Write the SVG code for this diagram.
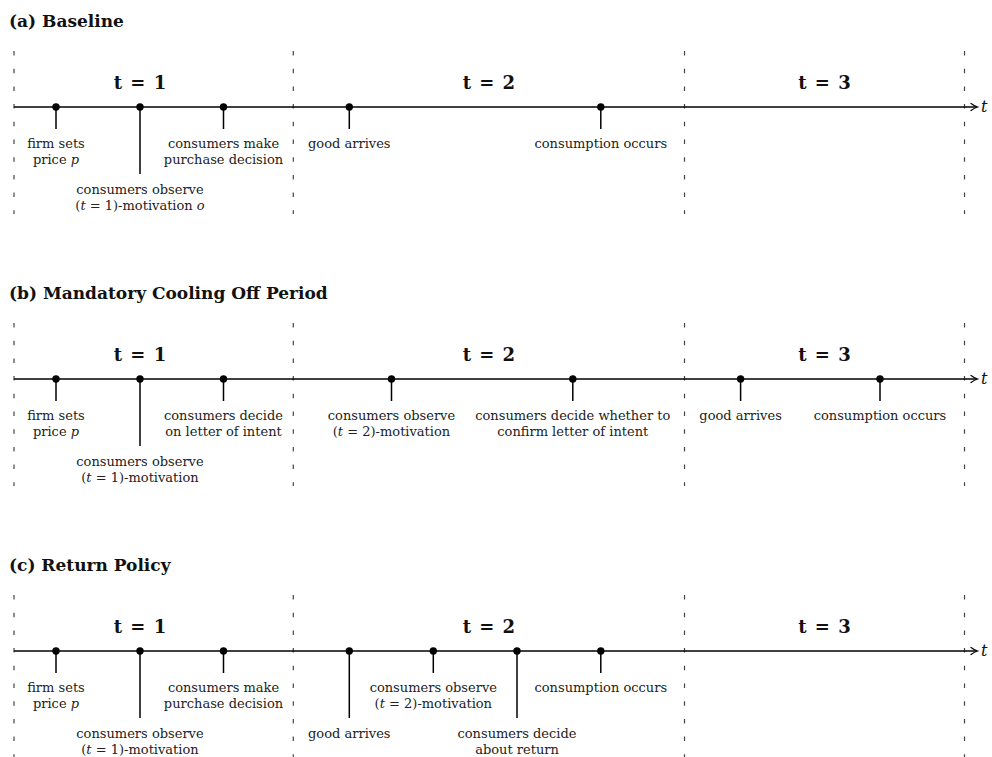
<svg xmlns="http://www.w3.org/2000/svg" width="992" height="757" viewBox="0 0 992 757">
<style>
  .title{font-family:"DejaVu Serif",serif;font-weight:bold;font-size:17px;fill:#111}
  .per{font-family:"DejaVu Serif",serif;font-weight:bold;font-size:18px;fill:#111;text-anchor:middle;word-spacing:2px}
  .lab{font-family:"DejaVu Serif",serif;font-size:13px;fill:#222;text-anchor:middle}
  .it{font-style:italic}
  .tax{font-family:"DejaVu Serif",serif;font-style:italic;font-size:16px;fill:#111}
  .dash{stroke:#444;stroke-width:1.2;stroke-dasharray:4.5 13.2;fill:none}
  .axis{stroke:#000;stroke-width:1.5;fill:none}
  .arr{stroke:#000;stroke-width:1.2;fill:none;stroke-linecap:round}
  .stem{stroke:#000;stroke-width:1.5}
  .dot{fill:#000}
</style>
<defs>
  <g id="frame">
    <line class="dash" x1="14" y1="-56" x2="14" y2="107"/>
    <line class="dash" x1="293.3" y1="-56" x2="293.3" y2="107"/>
    <line class="dash" x1="684.5" y1="-56" x2="684.5" y2="107"/>
    <line class="dash" x1="964.5" y1="-56" x2="964.5" y2="107"/>
  </g>
  <g id="axisline">
    <line class="axis" x1="14" y1="0" x2="977" y2="0"/>
    <path class="arr" d="M971,-3.6 Q974.5,-1 977.6,0 Q974.5,1 971,3.6"/>
  </g>
</defs>

<!-- Panel (a) -->
<g id="panel-a" transform="translate(0,107)">
  <text class="title" x="9" y="-80">(a) Baseline</text>
  <use href="#frame"/>
  <text class="per" x="140" y="-18.5">t = 1</text>
  <text class="per" x="488.9" y="-18.5">t = 2</text>
  <text class="per" x="824.5" y="-18.5">t = 3</text>
  <g id="a-connectors"><use href="#axisline"/></g>
  <text class="tax" x="981" y="4.5">t</text>
  <g id="a-e1"><line class="stem" x1="56" y1="0" x2="56" y2="22"/><circle class="dot" cx="56" cy="0" r="3.7"/>
    <text class="lab" x="56" y="41">firm sets</text><text class="lab" x="56" y="56.5">price <tspan class="it">p</tspan></text></g>
  <g id="a-e2"><line class="stem" x1="140" y1="0" x2="140" y2="67"/><circle class="dot" cx="140" cy="0" r="3.7"/>
    <text class="lab" x="140" y="87">consumers observe</text><text class="lab" x="140" y="102.5">(<tspan class="it">t</tspan> = 1)-motivation <tspan class="it">o</tspan></text></g>
  <g id="a-e3"><line class="stem" x1="223.5" y1="0" x2="223.5" y2="22"/><circle class="dot" cx="223.5" cy="0" r="3.7"/>
    <text class="lab" x="223.5" y="41">consumers make</text><text class="lab" x="223.5" y="56.5">purchase decision</text></g>
  <g id="a-e4"><line class="stem" x1="349.3" y1="0" x2="349.3" y2="22"/><circle class="dot" cx="349.3" cy="0" r="3.7"/>
    <text class="lab" x="349.3" y="41">good arrives</text></g>
  <g id="a-e5"><line class="stem" x1="600.8" y1="0" x2="600.8" y2="22"/><circle class="dot" cx="600.8" cy="0" r="3.7"/>
    <text class="lab" x="600.8" y="41">consumption occurs</text></g>
</g>

<!-- Panel (b) -->
<g id="panel-b" transform="translate(0,379)">
  <text class="title" x="9" y="-80">(b) Mandatory Cooling Off Period</text>
  <use href="#frame"/>
  <text class="per" x="140" y="-18.5">t = 1</text>
  <text class="per" x="488.9" y="-18.5">t = 2</text>
  <text class="per" x="824.5" y="-18.5">t = 3</text>
  <g id="b-connectors"><use href="#axisline"/></g>
  <text class="tax" x="981" y="4.5">t</text>
  <g id="b-e1"><line class="stem" x1="56" y1="0" x2="56" y2="22"/><circle class="dot" cx="56" cy="0" r="3.7"/>
    <text class="lab" x="56" y="41">firm sets</text><text class="lab" x="56" y="56.5">price <tspan class="it">p</tspan></text></g>
  <g id="b-e2"><line class="stem" x1="140" y1="0" x2="140" y2="67"/><circle class="dot" cx="140" cy="0" r="3.7"/>
    <text class="lab" x="140" y="87">consumers observe</text><text class="lab" x="140" y="102.5">(<tspan class="it">t</tspan> = 1)-motivation</text></g>
  <g id="b-e3"><line class="stem" x1="223.5" y1="0" x2="223.5" y2="22"/><circle class="dot" cx="223.5" cy="0" r="3.7"/>
    <text class="lab" x="223.5" y="41">consumers decide</text><text class="lab" x="223.5" y="56.5">on letter of intent</text></g>
  <g id="b-e4"><line class="stem" x1="391.5" y1="0" x2="391.5" y2="22"/><circle class="dot" cx="391.5" cy="0" r="3.7"/>
    <text class="lab" x="391.5" y="41">consumers observe</text><text class="lab" x="391.5" y="56.5">(<tspan class="it">t</tspan> = 2)-motivation</text></g>
  <g id="b-e5"><line class="stem" x1="572.8" y1="0" x2="572.8" y2="22"/><circle class="dot" cx="572.8" cy="0" r="3.7"/>
    <text class="lab" x="572.8" y="41">consumers decide whether to</text><text class="lab" x="572.8" y="56.5">confirm letter of intent</text></g>
  <g id="b-e6"><line class="stem" x1="740.6" y1="0" x2="740.6" y2="22"/><circle class="dot" cx="740.6" cy="0" r="3.7"/>
    <text class="lab" x="740.6" y="41">good arrives</text></g>
  <g id="b-e7"><line class="stem" x1="880" y1="0" x2="880" y2="22"/><circle class="dot" cx="880" cy="0" r="3.7"/>
    <text class="lab" x="880" y="41">consumption occurs</text></g>
</g>

<!-- Panel (c) -->
<g id="panel-c" transform="translate(0,651)">
  <text class="title" x="9" y="-80">(c) Return Policy</text>
  <use href="#frame"/>
  <text class="per" x="140" y="-18.5">t = 1</text>
  <text class="per" x="488.9" y="-18.5">t = 2</text>
  <text class="per" x="824.5" y="-18.5">t = 3</text>
  <g id="c-connectors"><use href="#axisline"/></g>
  <text class="tax" x="981" y="4.5">t</text>
  <g id="c-e1"><line class="stem" x1="56" y1="0" x2="56" y2="22"/><circle class="dot" cx="56" cy="0" r="3.7"/>
    <text class="lab" x="56" y="41">firm sets</text><text class="lab" x="56" y="56.5">price <tspan class="it">p</tspan></text></g>
  <g id="c-e2"><line class="stem" x1="140" y1="0" x2="140" y2="67"/><circle class="dot" cx="140" cy="0" r="3.7"/>
    <text class="lab" x="140" y="87">consumers observe</text><text class="lab" x="140" y="102.5">(<tspan class="it">t</tspan> = 1)-motivation</text></g>
  <g id="c-e3"><line class="stem" x1="223.5" y1="0" x2="223.5" y2="22"/><circle class="dot" cx="223.5" cy="0" r="3.7"/>
    <text class="lab" x="223.5" y="41">consumers make</text><text class="lab" x="223.5" y="56.5">purchase decision</text></g>
  <g id="c-e4"><line class="stem" x1="349.3" y1="0" x2="349.3" y2="67"/><circle class="dot" cx="349.3" cy="0" r="3.7"/>
    <text class="lab" x="349.3" y="87">good arrives</text></g>
  <g id="c-e5"><line class="stem" x1="433.3" y1="0" x2="433.3" y2="22"/><circle class="dot" cx="433.3" cy="0" r="3.7"/>
    <text class="lab" x="433.3" y="41">consumers observe</text><text class="lab" x="433.3" y="56.5">(<tspan class="it">t</tspan> = 2)-motivation</text></g>
  <g id="c-e6"><line class="stem" x1="517" y1="0" x2="517" y2="67"/><circle class="dot" cx="517" cy="0" r="3.7"/>
    <text class="lab" x="517" y="87">consumers decide</text><text class="lab" x="517" y="102.5">about return</text></g>
  <g id="c-e7"><line class="stem" x1="600.8" y1="0" x2="600.8" y2="22"/><circle class="dot" cx="600.8" cy="0" r="3.7"/>
    <text class="lab" x="600.8" y="41">consumption occurs</text></g>
</g>
</svg>
